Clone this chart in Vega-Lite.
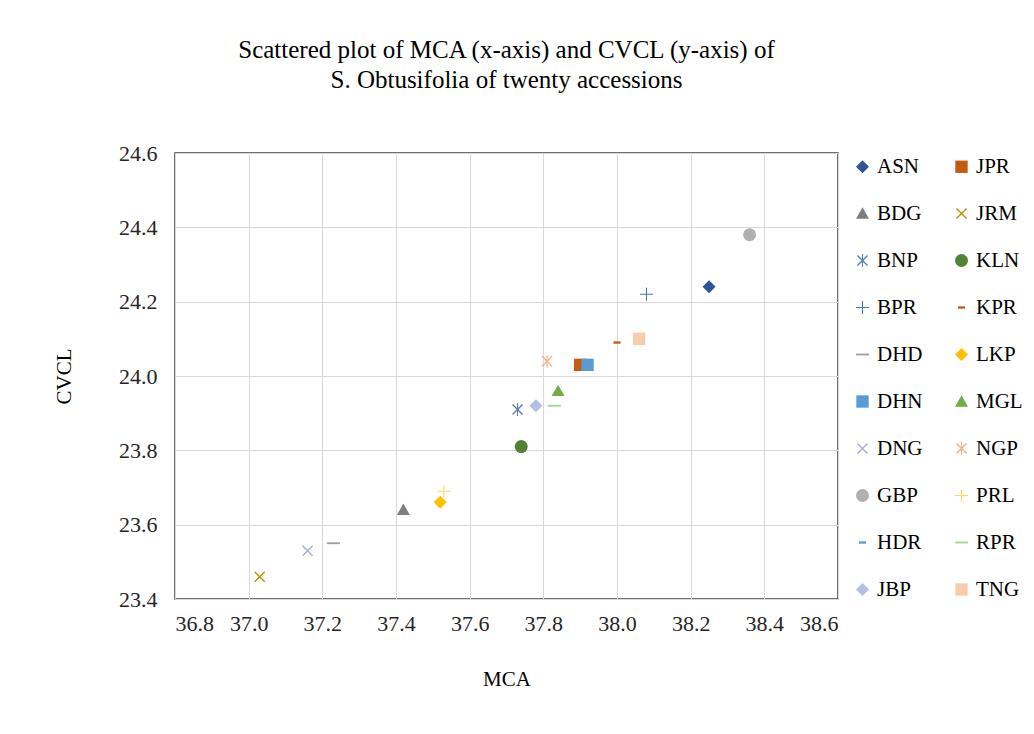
{
  "$schema": "https://vega.github.io/schema/vega-lite/v6.json",
  "autosize": {"type": "none"},
  "width": 663,
  "height": 446,
  "padding": {"left": 175, "top": 153, "right": 196, "bottom": 135},
  "background": "white",
  "title": {
    "text": "Scattered plot of  MCA (x-axis) and CVCL (y-axis) of",
    "subtitle": "S. Obtusifolia of twenty accessions",
    "anchor": "middle",
    "offset": 49,
    "font": "Liberation Serif",
    "fontSize": 25,
    "fontWeight": "normal",
    "color": "#000000",
    "subtitleFont": "Liberation Serif",
    "subtitleFontSize": 25,
    "subtitleColor": "#000000",
    "subtitlePadding": 5
  },
  "config": {
    "view": {"stroke": "#404040", "strokeWidth": 1.5},
    "axis": {
      "labelFont": "Liberation Serif",
      "labelFontSize": 22,
      "labelColor": "#262626",
      "titleFont": "Liberation Serif",
      "titleFontSize": 21,
      "titleFontWeight": "normal",
      "titleColor": "#000000",
      "gridColor": "#D9D9D9",
      "gridWidth": 1,
      "ticks": false,
      "domain": false
    },
    "legend": {
      "labelFont": "Liberation Serif",
      "labelFontSize": 21,
      "labelColor": "#000000"
    }
  },
  "data": {
    "values": [
      {"name": "ASN", "mca": 38.25, "cvcl": 24.24},
      {"name": "JPR", "mca": 37.90, "cvcl": 24.03},
      {"name": "BDG", "mca": 37.42, "cvcl": 23.64},
      {"name": "JRM", "mca": 37.03, "cvcl": 23.46},
      {"name": "BNP", "mca": 37.73, "cvcl": 23.91},
      {"name": "KLN", "mca": 37.74, "cvcl": 23.81},
      {"name": "BPR", "mca": 38.08, "cvcl": 24.22},
      {"name": "KPR", "mca": 38.00, "cvcl": 24.09},
      {"name": "DHD", "mca": 37.23, "cvcl": 23.55},
      {"name": "LKP", "mca": 37.52, "cvcl": 23.66},
      {"name": "DHN", "mca": 37.92, "cvcl": 24.03},
      {"name": "MGL", "mca": 37.84, "cvcl": 23.96},
      {"name": "DNG", "mca": 37.16, "cvcl": 23.53},
      {"name": "NGP", "mca": 37.81, "cvcl": 24.04},
      {"name": "GBP", "mca": 38.36, "cvcl": 24.38},
      {"name": "PRL", "mca": 37.53, "cvcl": 23.69},
      {"name": "HDR", "mca": 37.92, "cvcl": 24.02},
      {"name": "RPR", "mca": 37.83, "cvcl": 23.92},
      {"name": "JBP", "mca": 37.78, "cvcl": 23.92},
      {"name": "TNG", "mca": 38.06, "cvcl": 24.10}
    ]
  },
  "mark": {"type": "point", "filled": true, "opacity": 1, "size": 169, "strokeWidth": 0},
  "encoding": {
    "x": {
      "field": "mca", "type": "quantitative", "title": "MCA",
      "scale": {"domain": [36.8, 38.6], "nice": false, "zero": false},
      "axis": {"values": [36.8, 37.0, 37.2, 37.4, 37.6, 37.8, 38.0, 38.2, 38.4, 38.6], "format": ".1f", "labelPadding": 14, "titlePadding": 34}
    },
    "y": {
      "field": "cvcl", "type": "quantitative", "title": "CVCL",
      "scale": {"domain": [23.4, 24.6], "nice": false, "zero": false},
      "axis": {"values": [23.4, 23.6, 23.8, 24.0, 24.2, 24.4, 24.6], "format": ".1f", "labelPadding": 18, "titlePadding": 44}
    },
    "color": {
      "field": "name", "type": "nominal", "title": null,
      "scale": {
        "domain": ["ASN", "BDG", "BNP", "BPR", "DHD", "DHN", "DNG", "GBP", "HDR", "JBP", "JPR", "JRM", "KLN", "KPR", "LKP", "MGL", "NGP", "PRL", "RPR", "TNG"],
        "range": ["#2F5597", "#7F7F7F", "#5A7DB5", "#4472C4", "#A0A0A0", "#5B9BD5", "#A3ADDB", "#B0B0B0", "#5B9BD5", "#B4BFE6", "#C55A11", "#BF9000", "#548235", "#C55A11", "#FFC000", "#70AD47", "#F4B183", "#FFD966", "#A9D18E", "#F8CBAD"]
      },
      "legend": {
        "orient": "none", "legendX": 677, "legendY": 3, "direction": "vertical", "columns": 2,
        "symbolSize": 169, "symbolStrokeWidth": 0, "rowPadding": 25, "columnPadding": 28, "labelOffset": 4
      }
    },
    "shape": {
      "field": "name", "type": "nominal", "title": null,
      "scale": {
        "domain": ["ASN", "BDG", "BNP", "BPR", "DHD", "DHN", "DNG", "GBP", "HDR", "JBP", "JPR", "JRM", "KLN", "KPR", "LKP", "MGL", "NGP", "PRL", "RPR", "TNG"],
        "range": [
          "M0,-1L1,0L0,1L-1,0Z",
          "M0,-0.95L1,0.8L-1,0.8Z",
          "M-0.85,-0.7L-0.7,-0.85L0,-0.15L0.7,-0.85L0.85,-0.7L0.15,0L0.85,0.7L0.7,0.85L0,0.15L-0.7,0.85L-0.85,0.7L-0.15,0ZM-0.08,-1H0.08V1H-0.08Z",
          "M-0.08,-1H0.08V-0.08H1V0.08H0.08V1H-0.08V0.08H-1V-0.08H-0.08Z",
          "M-1,-0.14H1V0.14H-1Z",
          "M-0.95,-0.95H0.95V0.95H-0.95Z",
          "M-0.85,-0.7L-0.7,-0.85L0,-0.15L0.7,-0.85L0.85,-0.7L0.15,0L0.85,0.7L0.7,0.85L0,0.15L-0.7,0.85L-0.85,0.7L-0.15,0Z",
          "circle",
          "M-0.55,-0.18H0.55V0.18H-0.55Z",
          "M0,-1L1,0L0,1L-1,0Z",
          "M-0.95,-0.95H0.95V0.95H-0.95Z",
          "M-0.85,-0.7L-0.7,-0.85L0,-0.15L0.7,-0.85L0.85,-0.7L0.15,0L0.85,0.7L0.7,0.85L0,0.15L-0.7,0.85L-0.85,0.7L-0.15,0Z",
          "circle",
          "M-0.55,-0.18H0.55V0.18H-0.55Z",
          "M0,-1L1,0L0,1L-1,0Z",
          "M0,-0.95L1,0.8L-1,0.8Z",
          "M-0.85,-0.7L-0.7,-0.85L0,-0.15L0.7,-0.85L0.85,-0.7L0.15,0L0.85,0.7L0.7,0.85L0,0.15L-0.7,0.85L-0.85,0.7L-0.15,0ZM-0.08,-1H0.08V1H-0.08Z",
          "M-0.08,-1H0.08V-0.08H1V0.08H0.08V1H-0.08V0.08H-1V-0.08H-0.08Z",
          "M-1,-0.14H1V0.14H-1Z",
          "M-0.95,-0.95H0.95V0.95H-0.95Z"
        ]
      }
    }
  }
}
